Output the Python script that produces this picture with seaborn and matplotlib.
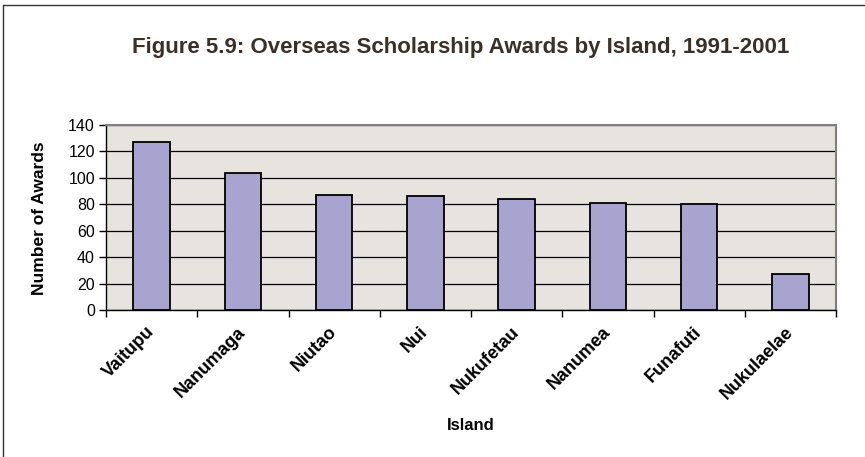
import matplotlib
matplotlib.use("Agg")
import matplotlib.pyplot as plt
from matplotlib.lines import Line2D
from matplotlib.transforms import ScaledTranslation
import seaborn as sns
import pandas as pd
import numpy as np

islands = ["Vaitupu", "Nanumaga", "Niutao", "Nui", "Nukufetau",
           "Nanumea", "Funafuti", "Nukulaelae"]
awards = [127, 104, 87, 86, 84, 81, 80, 27]
y_ticks = [0, 20, 40, 60, 80, 100, 120, 140]

title = "Figure 5.9: Overseas Scholarship Awards by Island, 1991-2001"

sns.set_theme(style="white")
plt.rcParams["font.family"] = ["Liberation Sans", "DejaVu Sans"]

W, H = 865, 457
fig = plt.figure(figsize=(W / 100, H / 100), dpi=100)
fig.patch.set_facecolor("white")

# plot area in pixel terms
left, right, top, bottom = 106, 836, 125, 310
ax = fig.add_axes([left / W, 1 - bottom / H, (right - left) / W, (bottom - top) / H])
ax.set_facecolor("#E7E3DE")

df = pd.DataFrame({"Island": islands, "Awards": awards})
sns.barplot(data=df, x="Island", y="Awards", ax=ax, color="#A9A3D0",
            width=0.4, edgecolor="black", linewidth=1.3, saturation=1)

ax.set_ylim(0, 140)
ax.set_xlim(-0.5, len(islands) - 0.5)
ax.set_yticks(y_ticks)
ax.set_yticklabels([str(v) for v in y_ticks], fontsize=11.5, color="black")
ax.yaxis.grid(True, color="black", linewidth=0.9)
ax.set_axisbelow(True)

# category labels, rotated, with boundary ticks between categories
ax.set_xticks(np.arange(len(islands)))
ax.set_xticklabels(islands, rotation=45, ha="right", va="center",
                   rotation_mode="anchor", fontsize=13, fontweight="bold",
                   color="black")
shift = ScaledTranslation(-13 / 100, 0, fig.dpi_scale_trans)
for lbl in ax.get_xticklabels():
    lbl.set_transform(lbl.get_transform() + shift)
ax.tick_params(axis="x", which="major", length=0, pad=14)
ax.set_xticks(np.arange(len(islands) + 1) - 0.5, minor=True)
ax.tick_params(axis="x", which="minor", length=5, width=1, color="black",
               direction="out", bottom=True)
ax.tick_params(axis="y", length=5, width=1, color="black", direction="out",
               left=True, pad=3)

for side in ["top", "right"]:
    ax.spines[side].set_color("#808080")
    ax.spines[side].set_linewidth(1.5)
for side in ["left", "bottom"]:
    ax.spines[side].set_color("black")
    ax.spines[side].set_linewidth(1)

ax.set_xlabel("")
ax.set_ylabel("")
fig.text(471 / W, 1 - 425 / H, "Island", ha="center", va="center",
         fontsize=12, fontweight="bold", color="black")
fig.text(40 / W, 1 - 218 / H, "Number of Awards", ha="center", va="center",
         rotation=90, fontsize=12.5, fontweight="bold", color="black")

fig.text(461 / W, 1 - 48 / H, title, ha="center", va="center",
         fontsize=16, fontweight="bold", color="#3A3028")

# chart frame
fig.add_artist(Line2D([3.5 / W, 3.5 / W], [0, 1 - 5 / H], color="#333333",
                      linewidth=1, transform=fig.transFigure))
fig.add_artist(Line2D([3.5 / W, 1], [1 - 5 / H, 1 - 5 / H], color="#333333",
                      linewidth=1, transform=fig.transFigure))

fig.savefig("out.png", dpi=100, facecolor="white")
